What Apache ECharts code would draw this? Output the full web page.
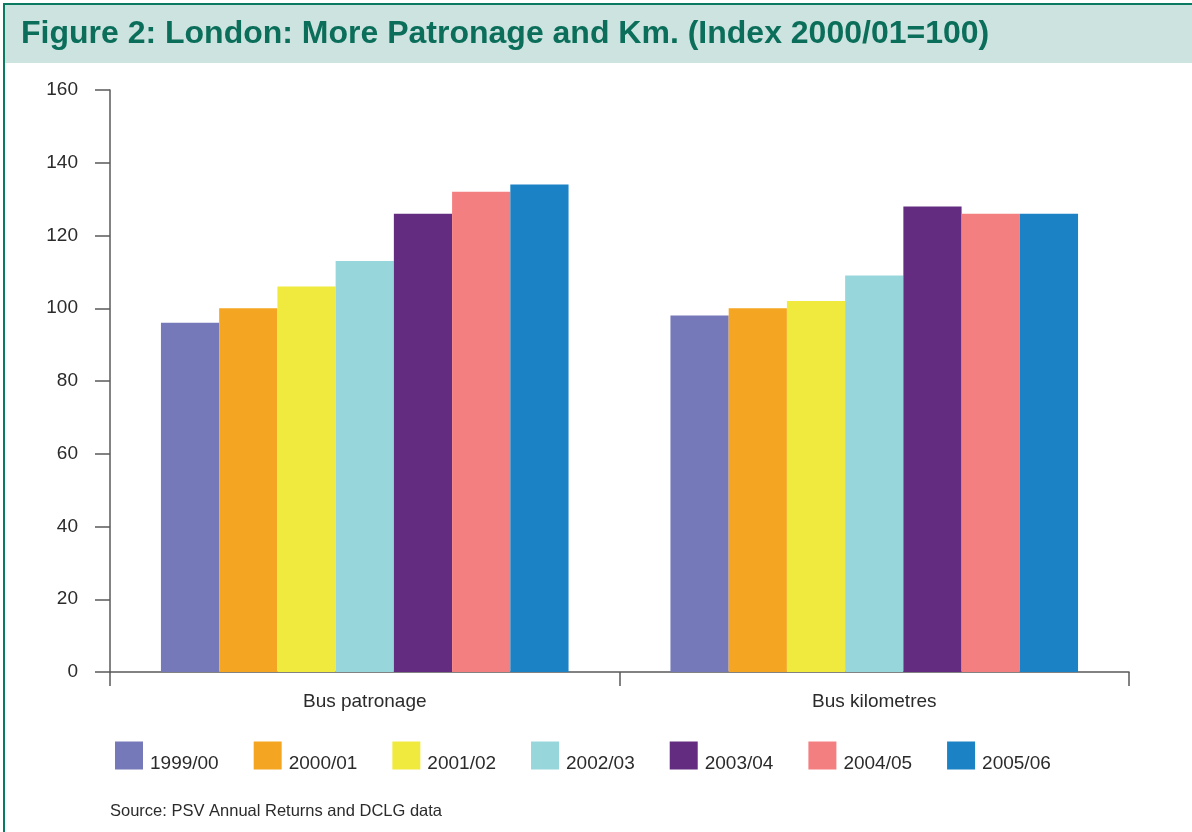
<!DOCTYPE html>
<html>
<head>
<meta charset="utf-8">
<title>Figure 2: London: More Patronage and Km.</title>
<script src="https://cdn.jsdelivr.net/npm/echarts@6/dist/echarts.min.js"></script>
<style>
  html, body { margin: 0; padding: 0; background: #ffffff; }
  #chart { width: 1192px; height: 832px; }
</style>
</head>
<body>
<div id="chart"></div>
<script>
// Categories on the x axis
const categories = ['Bus patronage', 'Bus kilometres'];

// Financial years (one series each)
const years = ['1999/00', '2000/01', '2001/02', '2002/03', '2003/04', '2004/05', '2005/06'];

// Index values (2000/01 = 100), [patronage, kilometres] per year
const v1999 = [96, 98];
const v2000 = [100, 100];
const v2001 = [106, 102];
const v2002 = [113, 109];
const v2003 = [126, 128];
const v2004 = [132, 126];
const v2005 = [134, 126];
const seriesValues = [v1999, v2000, v2001, v2002, v2003, v2004, v2005];

// Y axis scale
const yMin = 0;
const yMax = 160;
const yStep = 20;

const palette = ['#7679b9', '#f4a521', '#f0e93e', '#97d7dc', '#632c80', '#f47f81', '#1a82c5'];

const FONT = '"Liberation Sans", Arial, Helvetica, sans-serif';
const TEXT = '#2b2b2b';
const AXIS = '#5a5a5a';
const GREEN = '#0b6e5a';

const chart = echarts.init(document.getElementById('chart'), null, { renderer: 'canvas' });

chart.setOption({
  animation: false,
  backgroundColor: '#ffffff',
  textStyle: { fontFamily: FONT },
  graphic: [
    // Title band with the frame's top and left rules
    { type: 'rect', left: 5, top: 5, shape: { width: 1187, height: 58 }, style: { fill: '#cde3df' }, z: -1 },
    { type: 'rect', left: 4, top: 3, shape: { width: 1188, height: 2 }, style: { fill: '#0a7a60' } },
    { type: 'rect', left: 3, top: 3, shape: { width: 2, height: 829 }, style: { fill: '#0a7a60' } },
    {
      type: 'text', left: 21, top: 18,
      style: {
        text: 'Figure 2: London: More Patronage and Km. (Index 2000/01=100)',
        fill: GREEN, font: 'bold 32px ' + FONT
      }
    },
    {
      type: 'text', left: 110, top: 803,
      style: { text: 'Source: PSV Annual Returns and DCLG data', fill: TEXT, font: '16.5px ' + FONT }
    }
  ],
  legend: {
    left: 110,
    top: 733,
    itemWidth: 28,
    itemHeight: 28,
    itemGap: 35,
    icon: 'rect',
    selectedMode: false,
    data: years,
    formatter: '{t|{name}}',
    textStyle: {
      fontSize: 19, color: TEXT, fontFamily: FONT,
      rich: { t: { fontSize: 19, lineHeight: 19, color: TEXT, fontFamily: FONT, padding: [16, 0, 0, 2] } }
    }
  },
  grid: { left: 110, right: 63, top: 90, bottom: 160, containLabel: false },
  xAxis: {
    type: 'category',
    data: categories,
    boundaryGap: true,
    axisLine: { show: true, lineStyle: { color: AXIS, width: 1.5 } },
    axisTick: { show: true, length: 14, lineStyle: { color: AXIS, width: 1.5 } },
    axisLabel: { fontSize: 19, color: TEXT, margin: 20, fontFamily: FONT },
    splitLine: { show: false }
  },
  yAxis: {
    type: 'value',
    min: yMin,
    max: yMax,
    interval: yStep,
    axisLine: { show: true, lineStyle: { color: AXIS, width: 1.5 } },
    axisTick: { show: true, length: 15, lineStyle: { color: AXIS, width: 1.5 } },
    axisLabel: { fontSize: 19, color: TEXT, margin: 32, fontFamily: FONT },
    splitLine: { show: false }
  },
  series: years.map((y, i) => ({
    name: y,
    type: 'bar',
    data: seriesValues[i],
    barGap: '0%',
    barCategoryGap: '20%',
    itemStyle: { color: palette[i] },
    emphasis: { disabled: true }
  }))
});
</script>
</body>
</html>
